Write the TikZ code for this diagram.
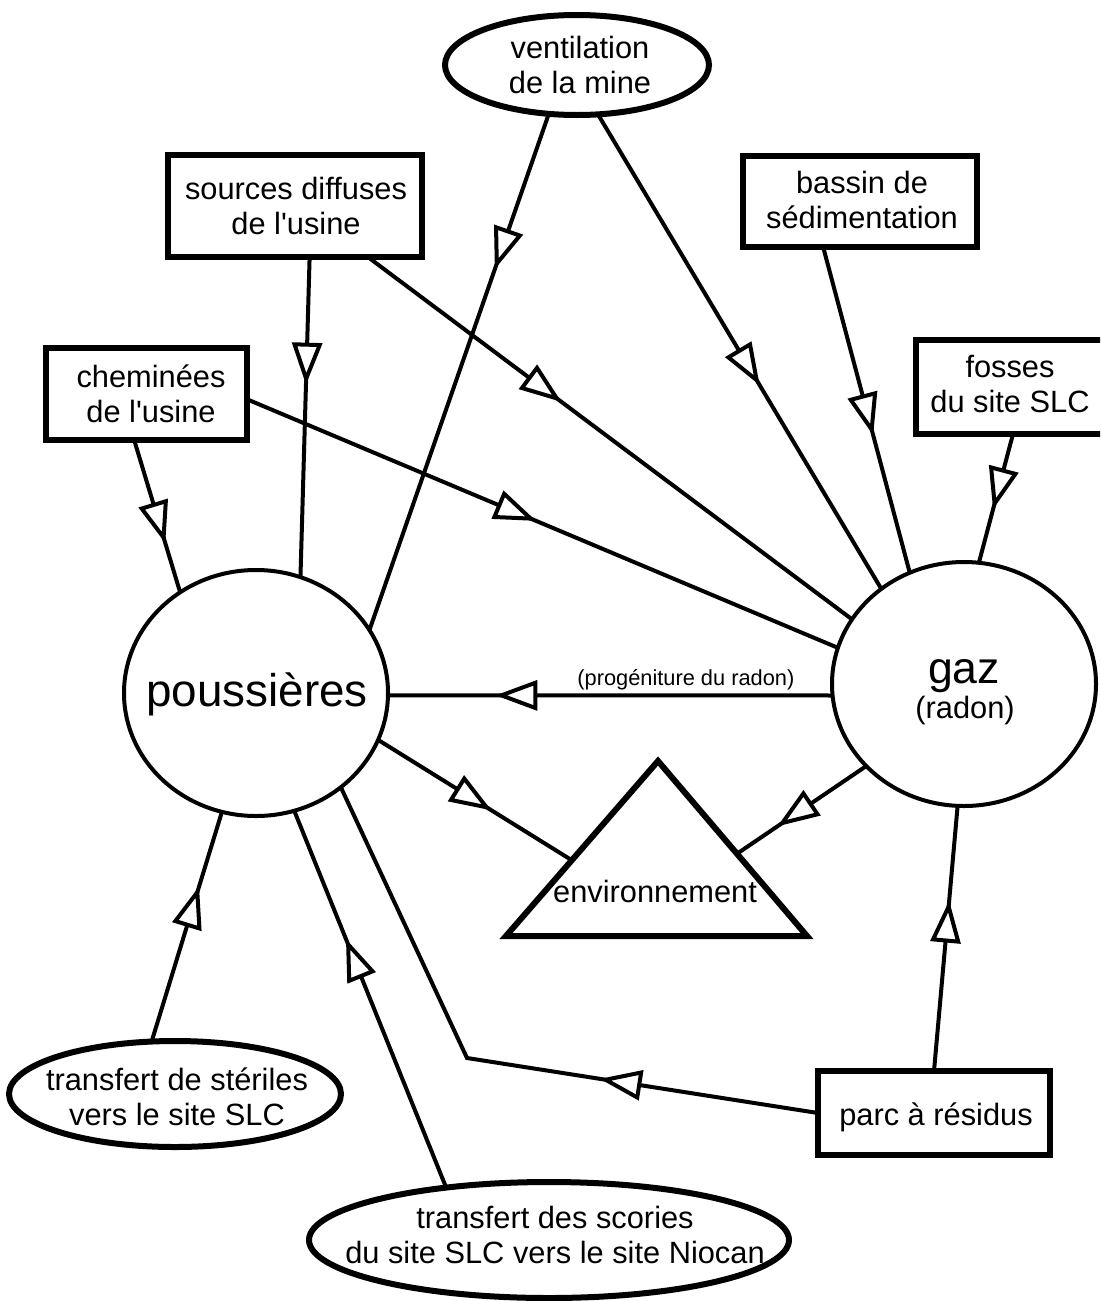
\documentclass[tikz,border=0pt]{standalone}
\usepackage{fontspec}
\setmainfont{Liberation Sans}[Ligatures=TeXOff]
\usetikzlibrary{decorations.markings,shapes.geometric,calc}

% two centred lines, baseline on the first line
\newcommand{\twolines}[2]{\begin{tabular}[t]{@{}c@{}}#1\\#2\end{tabular}}

\begin{document}
\begin{tikzpicture}[x=0.5pt,y=-0.5pt,
  box/.style={draw, line width=3.3pt, fill=white, rectangle, inner sep=0pt, outer sep=0pt},
  oval/.style={draw, line width=3pt, fill=white, ellipse, inner sep=0pt, outer sep=0pt},
  pool/.style={draw, line width=2pt, fill=white, ellipse, inner sep=0pt, outer sep=0pt},
  tri/.style={draw, line width=3pt, fill=white, line join=miter},
  txt/.style={anchor=base, inner sep=0pt, font=\fontsize{15.4}{17.5}\selectfont},
  lab/.style={inner sep=1.5pt, font=\fontsize{10.9}{12}\selectfont},
  flow/.style={line width=2pt, postaction={decorate, decoration={markings,
    mark=at position #1 with {\draw[line width=2pt, fill=white, line join=miter]
      (0pt,0pt) -- (-17pt,6.3pt) -- (-17pt,-6.3pt) -- cycle;}}}}
]
\useasboundingbox (0,0) rectangle (1100,1301);
\clip (0,0) rectangle (1100,1301);

% sources
\node[oval, minimum width=132pt, minimum height=50pt] (vent) at (577,65) {};
\node[txt] at (580,58) {\twolines{ventilation}{de la mine}};

\node[box, minimum width=127pt, minimum height=51pt] (src) at (295,206) {};
\node[txt] at (296,199) {\twolines{sources diffuses}{de l'usine}};

\node[box, minimum width=117pt, minimum height=45.5pt] (bas) at (860,201.5) {};
\node[txt] at (862,193) {\twolines{bassin de}{sédimentation}};

\node[box, minimum width=100.5pt, minimum height=46pt] (chem) at (146.5,394) {};
\node[txt] at (151,387) {\twolines{cheminées}{de l'usine}};

\node[box, minimum width=97pt, minimum height=47pt] (fos) at (1013,387) {};
\node[txt] at (1010,377) {\twolines{fosses}{du site SLC}};

% pools
\node[pool, minimum width=132pt, minimum height=123pt] (pous) at (256,693) {};
\node[txt, font=\fontsize{22.9}{26}\selectfont] at (257,706) {poussières};

\node[pool, minimum width=132pt, minimum height=122pt] (gaz) at (964,684) {};
\node[txt, font=\fontsize{22.3}{26}\selectfont] at (964,683) {gaz};
\node[txt] at (965,718) {(radon)};

% receptor
\coordinate (envtop) at (658,761);
\coordinate (envl) at (506,936);
\coordinate (envr) at (807,936);
\draw[tri] (envtop) -- (envl) -- (envr) -- cycle;
\node[txt] (env) at (655,902) {environnement};

% transfers and tailings
\node[oval, minimum width=166pt, minimum height=53pt] (ster) at (175,1094) {};
\node[txt] at (177,1090) {\twolines{transfert de stériles}{vers le site SLC}};

\node[oval, minimum width=240pt, minimum height=58pt] (scor) at (549,1240) {};
\node[txt] at (555,1228) {\twolines{transfert des scories}{du site SLC vers le site Niocan}};

\node[box, minimum width=116pt, minimum height=42pt] (parc) at (934,1113) {};
\node[txt] at (936,1125) {parc à résidus};

\coordinate (bend) at (467,1058);

% flows towards the dust pool
\draw[flow=0.64] (chem.-105.4) -- (pous.127.1);
\draw[flow=0.38] (src.-74.5) -- (pous.69.4);
\draw[flow=0.29] (vent.-120.7) -- (pous.29.2);
\draw[flow=0.65] (ster.114.3) -- (pous.-106.8);
\draw[flow=0.645] (scor.153.2) -- (pous.-72.7);
\draw[flow=107.5pt] (parc.west) -- (bend) -- (pous.-48.8);

% flows towards the gas pool
\draw[flow=0.56] (vent.-67) -- (gaz.131.1);
\draw[flow=0.39] (src.-35.8) -- (gaz.150.2);
\draw[flow=0.48] (chem.-3.3) -- (gaz.164.6);
\draw[flow=0.56] (bas.-129.5) -- (gaz.116.4);
\draw[flow=0.54] (fos.south) -- (gaz.83.9);
\draw[flow=0.62] (parc.north) -- (gaz.-93.3);

% radon progeny and release to the environment
\draw[flow=0.745] (gaz.185.65) -- node[lab, pos=0.33, above] {(progéniture du radon)} (pous.-1.7);
\draw[flow=0.56] (pous.-21.8) -- ($(envtop)!0.567!(envl)$);
\draw[flow=0.65] (gaz.-140) -- ($(envtop)!0.53!(envr)$);
\end{tikzpicture}
\end{document}
